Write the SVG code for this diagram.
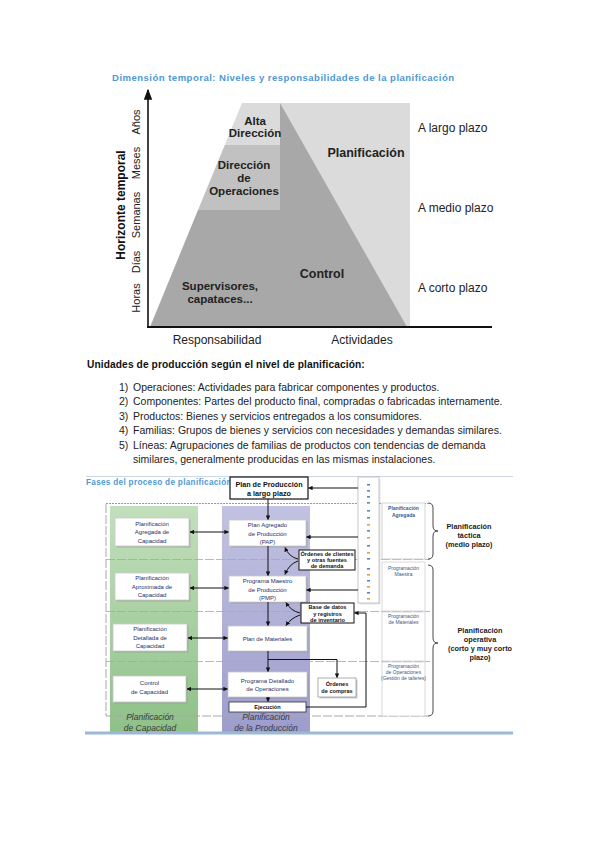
<svg xmlns="http://www.w3.org/2000/svg" width="599" height="848" viewBox="0 0 599 848">
<defs>
<style>
text{font-family:"Liberation Sans",Arial,sans-serif}
.ttl{font-weight:bold;fill:#4f9ad3}
.pyr{font-size:11.5px;font-weight:bold;fill:#222;text-anchor:middle}
.big{font-size:12.5px;font-weight:bold;fill:#222;text-anchor:middle}
.ax{font-size:12px;fill:#222}
.yl{font-size:11px;fill:#222;text-anchor:middle}
.lst{font-size:10.5px;fill:#222}
.bx{font-size:6px;fill:#1f2f66;text-anchor:middle}
.bb{font-size:5.6px;font-weight:bold;fill:#111;text-anchor:middle}
.rl{font-size:5px;fill:#3a5a8a;text-anchor:middle}
.rr{font-size:7.3px;font-weight:bold;fill:#222;text-anchor:middle}
.col{font-size:8.5px;font-style:italic;fill:#3a3a3a;text-anchor:middle}
.wb{fill:#fff;stroke:#c8c8c8;stroke-width:0.8}
.sh{fill:#8a8a8a;opacity:0.45}
.ln{stroke:#111;stroke-width:1;fill:none}
.sep{stroke:#a8a8a8;stroke-width:1;stroke-dasharray:9 2;fill:none}
</style>
<marker id="ah" viewBox="0 0 6 6" refX="5.5" refY="3" markerWidth="4.5" markerHeight="4.5" orient="auto-start-reverse">
<path d="M0,0 L6,3 L0,6 Z" fill="#111"/>
</marker>
<marker id="axh" viewBox="0 0 8 8" refX="7" refY="4" markerWidth="7" markerHeight="7" orient="auto">
<path d="M0,1 L8,4 L0,7 Z" fill="#111"/>
</marker>
<linearGradient id="gG" x1="0" y1="0" x2="0" y2="1">
<stop offset="0" stop-color="#c3dfbd"/>
<stop offset="1" stop-color="#8ec188"/>
</linearGradient>
<linearGradient id="gP" x1="0" y1="0" x2="0" y2="1">
<stop offset="0" stop-color="#c2c2e2"/>
<stop offset="1" stop-color="#9d9dcd"/>
</linearGradient>
</defs>
<rect width="599" height="848" fill="#fff"/>

<!-- Top diagram -->
<g id="top-title">
<text class="ttl" x="112" y="81" font-size="9.6" letter-spacing="0.45">Dimensión temporal: Niveles y responsabilidades de la planificación</text>
</g>
<g id="pyramid">
<rect x="280" y="103" width="130" height="224" fill="#dbdbdb"/>
<polygon points="242,103 280,103 280,145 224.75,145" fill="#dbdbdb"/>
<polygon points="224.75,145 280,145 280,210 198,210" fill="#c1c1c1"/>
<polygon points="198,210 280,210 280,327 150,327" fill="#a8a8a8"/>
<polygon points="280,103 407,327 280,327" fill="#a8a8a8"/>
</g>
<g id="pyr-labels">
<text class="pyr" x="255" y="125">Alta</text>
<text class="pyr" x="255" y="137">Dirección</text>
<text class="pyr" x="244" y="169">Dirección</text>
<text class="pyr" x="244" y="182">de</text>
<text class="pyr" x="244" y="195">Operaciones</text>
<text class="pyr" x="220" y="290">Supervisores,</text>
<text class="pyr" x="220" y="303">capataces...</text>
<text class="big" x="366" y="157">Planificación</text>
<text class="big" x="322" y="278">Control</text>
</g>
<g id="axes">
<line x1="148" y1="328" x2="148" y2="90" stroke="#111" stroke-width="1.6" marker-end="url(#axh)"/>
<line x1="147" y1="327" x2="492" y2="327" stroke="#111" stroke-width="1.8"/>
<text class="yl" transform="translate(140,122) rotate(-90)">Años</text>
<text class="yl" transform="translate(140,163) rotate(-90)">Meses</text>
<text class="yl" transform="translate(140,215) rotate(-90)">Semanas</text>
<text class="yl" transform="translate(140,262) rotate(-90)">Días</text>
<text class="yl" transform="translate(140,298) rotate(-90)">Horas</text>
<text transform="translate(125,205) rotate(-90)" font-size="12" font-weight="bold" fill="#111" text-anchor="middle">Horizonte temporal</text>
<text class="ax" x="217" y="344" text-anchor="middle">Responsabilidad</text>
<text class="ax" x="362" y="344" text-anchor="middle">Actividades</text>
<text class="ax" x="418" y="132">A largo plazo</text>
<text class="ax" x="418" y="212">A medio plazo</text>
<text class="ax" x="418" y="292">A corto plazo</text>
</g>

<!-- List -->
<g id="list">
<text x="87" y="368" font-size="10.2" font-weight="bold" fill="#111" letter-spacing="0.1">Unidades de producción según el nivel de planificación:</text>
<text class="lst" x="119" y="390.5">1)</text><text class="lst" x="133" y="390.5">Operaciones: Actividades para fabricar componentes y productos.</text>
<text class="lst" x="119" y="405">2)</text><text class="lst" x="133" y="405">Componentes: Partes del producto final, compradas o fabricadas internamente.</text>
<text class="lst" x="119" y="419.5">3)</text><text class="lst" x="133" y="419.5">Productos: Bienes y servicios entregados a los consumidores.</text>
<text class="lst" x="119" y="434">4)</text><text class="lst" x="133" y="434">Familias: Grupos de bienes y servicios con necesidades y demandas similares.</text>
<text class="lst" x="119" y="448.5">5)</text><text class="lst" x="133" y="448.5">Líneas: Agrupaciones de familias de productos con tendencias de demanda</text>
<text class="lst" x="133" y="463">similares, generalmente producidas en las mismas instalaciones.</text>
</g>

<!-- Bottom diagram -->
<g id="bottom-frame">
<line x1="86" y1="476.5" x2="513" y2="476.5" stroke="#c9d8e6" stroke-width="1"/>
<text class="ttl" x="86" y="485" font-size="8.2" letter-spacing="0.3">Fases del proceso de planificación</text>
<rect x="110" y="506" width="88" height="227" fill="url(#gG)"/>
<rect x="222" y="506" width="88" height="227" fill="url(#gP)"/>
<path d="M106,503.5 H428" stroke="#9a9a9a" stroke-width="1.2" stroke-dasharray="2 1" fill="none"/>
<path d="M106,504 V716 H428" class="sep"/>
<path d="M106,559.5 H430 M106,611.5 H430 M106,661.5 H430" class="sep" opacity="0.8"/>
<line x1="85" y1="733" x2="513" y2="733" stroke="#9bb9d5" stroke-width="3"/>
<text class="col" x="150" y="720">Planificación</text>
<text class="col" x="150" y="731">de Capacidad</text>
<text class="col" x="266" y="720" fill="#2e2e4e">Planificación</text>
<text class="col" x="266" y="731" fill="#2e2e4e">de la Producción</text>
</g>

<g id="right-labels">
<rect x="382" y="503" width="43" height="56" fill="#fff" stroke="#c8c8c8" stroke-width="0.8"/>
<rect x="382" y="562" width="43" height="49" fill="#fff" stroke="#d0d0d0" stroke-width="0.8"/>
<rect x="382" y="612" width="43" height="49" fill="#fff" stroke="#d0d0d0" stroke-width="0.8"/>
<rect x="382" y="662" width="43" height="54" fill="#fff" stroke="#d0d0d0" stroke-width="0.8"/>
<text class="rl" x="403.5" y="510" font-weight="bold" fill="#333">Planificación</text>
<text class="rl" x="403.5" y="517" font-weight="bold" fill="#333">Agregada</text>
<text class="rl" x="403.5" y="570">Programación</text>
<text class="rl" x="403.5" y="576">Maestra</text>
<text class="rl" x="403.5" y="618">Programación</text>
<text class="rl" x="403.5" y="624">de Materiales</text>
<text class="rl" x="403.5" y="668" fill="#9a7430">Programación</text>
<text class="rl" x="403.5" y="674" fill="#9a7430">de Operaciones</text>
<text class="rl" x="403.5" y="680">(Gestión de talleres)</text>
<path d="M428,503 Q433,503 433,508 V526 Q433,531 438,531 Q433,531 433,536 V554 Q433,559 428,559" fill="none" stroke="#333" stroke-width="0.9"/>
<path d="M428,565 Q433,565 433,570 V638 Q433,643 438,643 Q433,643 433,648 V711 Q433,716 428,716" fill="none" stroke="#333" stroke-width="0.9"/>
<text class="rr" x="469" y="528.5">Planificación</text>
<text class="rr" x="469" y="537.5">táctica</text>
<text class="rr" x="469" y="546.5">(medio plazo)</text>
<text class="rr" x="480" y="632.5">Planificación</text>
<text class="rr" x="480" y="641.5">operativa</text>
<text class="rr" x="480" y="650.5">(corto y muy corto</text>
<text class="rr" x="480" y="659.5">plazo)</text>
</g>

<g id="strip">
<rect x="359.5" y="478.5" width="21" height="126" fill="#aaa" opacity="0.3"/>
<rect x="358" y="477" width="21" height="126" fill="#fff" stroke="#b8b8b8" stroke-width="0.8"/>
<g fill="#5d86c0">
<rect x="367" y="484" width="3" height="1.6"/><rect x="367" y="490" width="3" height="1.6"/><rect x="367" y="496" width="3" height="1.6"/>
<rect x="367" y="502" width="3" height="1.6"/><rect x="367" y="510" width="3" height="1.6"/><rect x="367" y="517" width="3" height="1.6"/>
<rect x="367" y="530" width="3" height="1.6"/><rect x="367" y="545" width="3" height="1.6"/><rect x="367" y="558" width="3" height="1.6"/>
<rect x="367" y="568" width="3" height="1.6"/><rect x="367" y="580" width="3" height="1.6"/><rect x="367" y="592" width="3" height="1.6"/>
</g>
<g fill="#d9a444">
<rect x="367" y="524" width="3" height="1.6"/><rect x="367" y="537" width="3" height="1.6"/><rect x="367" y="552" width="3" height="1.6"/>
<rect x="367" y="574" width="3" height="1.6"/><rect x="367" y="586" width="3" height="1.6"/><rect x="367" y="598" width="3" height="1.6"/>
</g>
</g>

<g id="plan-largo">
<rect x="230" y="477" width="78" height="22" fill="#fff" stroke="#111" stroke-width="1.2"/>
<text x="269" y="487" font-size="7.2" font-weight="bold" fill="#111" text-anchor="middle">Plan de Producción</text>
<text x="269" y="496" font-size="7.2" font-weight="bold" fill="#111" text-anchor="middle">a largo plazo</text>
</g>

<g id="cap-agregada">
<rect x="116.5" y="519.5" width="74" height="28" class="sh"/>
<rect x="115" y="518" width="74" height="28" class="wb"/>
<text class="bx" x="152" y="525.5">Planificación</text>
<text class="bx" x="152" y="534">Agregada de</text>
<text class="bx" x="152" y="542.5">Capacidad</text>
</g>
<g id="cap-aproximada">
<rect x="116.5" y="574.5" width="74" height="27" class="sh"/>
<rect x="115" y="573" width="74" height="27" class="wb"/>
<text class="bx" x="152" y="580">Planificación</text>
<text class="bx" x="152" y="588.5">Aproximada de</text>
<text class="bx" x="152" y="597">Capacidad</text>
</g>
<g id="cap-detallada">
<rect x="114.5" y="625.5" width="74" height="27" class="sh"/>
<rect x="113" y="624" width="74" height="27" class="wb"/>
<text class="bx" x="150" y="631">Planificación</text>
<text class="bx" x="150" y="639.5">Detallada de</text>
<text class="bx" x="150" y="648">Capacidad</text>
</g>
<g id="cap-control">
<rect x="114.5" y="677.5" width="73" height="26" class="sh"/>
<rect x="113" y="676" width="73" height="26" class="wb"/>
<text class="bx" x="149.5" y="685">Control</text>
<text class="bx" x="149.5" y="694">de Capacidad</text>
</g>

<g id="pap">
<rect x="230.5" y="521.5" width="77" height="26" class="sh"/>
<rect x="229" y="520" width="77" height="26" class="wb"/>
<text class="bx" x="267.5" y="527">Plan Agregado</text>
<text class="bx" x="267.5" y="535.5">de Producción</text>
<text class="bx" x="267.5" y="543.5">(PAP)</text>
</g>
<g id="pmp">
<rect x="230.5" y="577.5" width="77" height="26" class="sh"/>
<rect x="229" y="576" width="77" height="26" class="wb"/>
<text class="bx" x="267.5" y="583">Programa Maestro</text>
<text class="bx" x="267.5" y="591.5">de Producción</text>
<text class="bx" x="267.5" y="599.5">(PMP)</text>
</g>
<g id="materiales">
<rect x="229.5" y="627.5" width="79" height="25" class="sh"/>
<rect x="228" y="626" width="79" height="25" class="wb"/>
<text class="bx" x="267.5" y="640.5">Plan de Materiales</text>
</g>
<g id="detallado">
<rect x="229.5" y="673.5" width="79" height="25" class="sh"/>
<rect x="228" y="672" width="79" height="25" class="wb"/>
<text class="bx" x="267.5" y="682.5">Programa Detallado</text>
<text class="bx" x="267.5" y="691">de Operaciones</text>
</g>
<g id="ejecucion">
<rect x="229" y="702" width="77" height="10" fill="#fff" stroke="#333" stroke-width="0.8"/>
<text class="bb" x="267.5" y="709.3">Ejecución</text>
</g>

<g id="ordenes-clientes">
<rect x="299" y="550" width="56" height="20" fill="#fff" stroke="#111" stroke-width="1"/>
<text class="bb" x="327" y="556" font-size="5.2">Órdenes de clientes</text>
<text class="bb" x="327" y="562.3" font-size="5.2">y otras fuentes</text>
<text class="bb" x="327" y="568.3" font-size="5.2">de demanda</text>
</g>
<g id="base-datos">
<rect x="301" y="603" width="53" height="20" fill="#fff" stroke="#111" stroke-width="1"/>
<text class="bb" x="327.5" y="609.3">Base de datos</text>
<text class="bb" x="327.5" y="615.5">y registros</text>
<text class="bb" x="327.5" y="621.7">de inventario</text>
</g>
<g id="ordenes-compras">
<rect x="319.5" y="679.5" width="38" height="19" class="sh"/>
<rect x="318" y="678" width="38" height="19" fill="#fff" stroke="#999" stroke-width="0.8"/>
<text class="bb" x="337" y="686">Órdenes</text>
<text class="bb" x="337" y="693">de compras</text>
</g>

<g id="connectors">
<line class="ln" x1="358" y1="488" x2="308.5" y2="488" marker-end="url(#ah)"/>
<line class="ln" x1="268" y1="499" x2="268" y2="519.5" marker-end="url(#ah)"/>
<line class="ln" x1="268" y1="546" x2="268" y2="575.5" marker-end="url(#ah)"/>
<line class="ln" x1="268" y1="602" x2="268" y2="625.5" marker-end="url(#ah)"/>
<line class="ln" x1="268" y1="651" x2="268" y2="671.5" marker-end="url(#ah)"/>
<line class="ln" x1="268" y1="697" x2="268" y2="701.5" marker-end="url(#ah)"/>
<path class="ln" d="M268,659.5 H337 V677.5" marker-end="url(#ah)"/>
<line class="ln" x1="358" y1="537" x2="306.5" y2="537" marker-end="url(#ah)"/>
<line class="ln" x1="358" y1="590" x2="306.5" y2="590" marker-end="url(#ah)"/>
<path class="ln" d="M306,707 H366 V613 H354.5" marker-end="url(#ah)"/>
<line class="ln" x1="190" y1="532" x2="228.5" y2="532" marker-start="url(#ah)" marker-end="url(#ah)"/>
<line class="ln" x1="190" y1="588" x2="228.5" y2="588" marker-start="url(#ah)" marker-end="url(#ah)"/>
<line class="ln" x1="188" y1="638" x2="227.5" y2="638" marker-start="url(#ah)" marker-end="url(#ah)"/>
<line class="ln" x1="187" y1="689" x2="227.5" y2="689" marker-start="url(#ah)" marker-end="url(#ah)"/>
<path class="ln" d="M298,559 Q289,557 285,547.5" marker-end="url(#ah)"/>
<path class="ln" d="M298,561 Q289,564 285,574.5" marker-end="url(#ah)"/>
<path class="ln" d="M300,613 Q291,611 286,602.5" marker-end="url(#ah)"/>
<path class="ln" d="M300,615 Q291,618 286,625.5" marker-end="url(#ah)"/>
</g>
</svg>
